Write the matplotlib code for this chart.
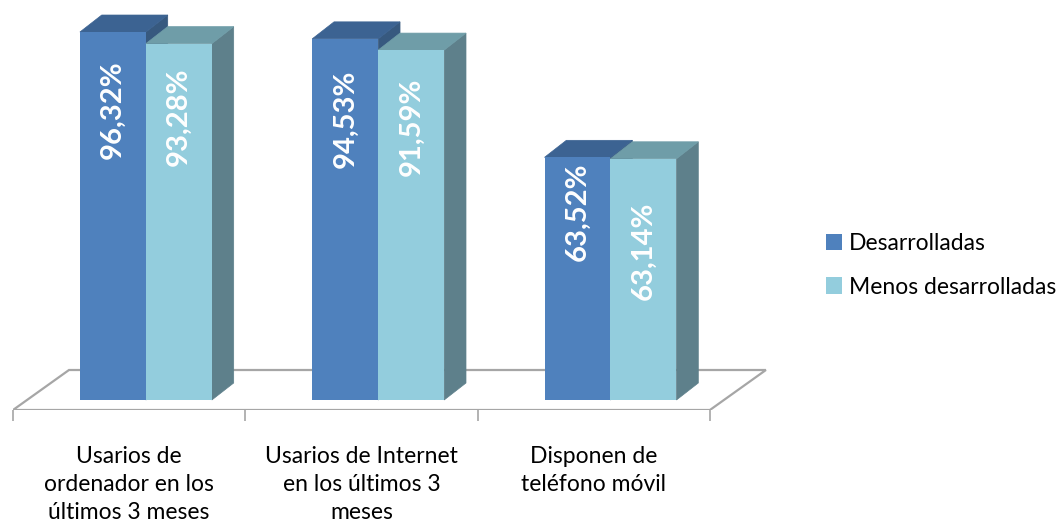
import matplotlib
matplotlib.use('Agg')
import matplotlib.pyplot as plt
from matplotlib.patches import Polygon, Patch

categories = ['Usarios de\nordenador en los\núltimos 3 meses',
              'Usarios de Internet\nen los últimos 3\nmeses',
              'Disponen de\nteléfono móvil']
series = ['Desarrolladas', 'Menos desarrolladas']
desarrolladas = [96.32, 94.53, 63.52]
menos_desarrolladas = [93.28, 91.59, 63.14]

# estilo
FRONT = ['#4F81BD', '#93CDDD']
TOP = ['#3C6392', '#6F9DA8']
SIDE = ['#37597F', '#5E808B']
FONT = ['Lato', 'DejaVu Sans']
# distancia (px) entre la parte superior de la barra y la etiqueta
label_gap = [[28, 31, 5], [24, 28, 43]]

BAR_W = 0.284
BAR_START = 0.288
DX, DY = 0.094, 4.45          # profundidad de las barras
FLOOR_Y = -2.62
FLOOR_DX, FLOOR_DY = 0.241, 10.47


def face(ax, pts, color, z):
    ax.add_patch(Polygon(pts, closed=True, facecolor=color, edgecolor=color,
                         linewidth=0.5, zorder=z))


fig = plt.figure(figsize=(10.64, 5.26), dpi=100)
ax = fig.add_axes([13 / 1064, 116 / 526, 0.7205, 410 / 526])
ax.set_xlim(0, 3.3)
ax.set_ylim(FLOOR_Y, 104.7)

# suelo
n = len(categories)
floor = Polygon([(0, FLOOR_Y), (n, FLOOR_Y), (n + FLOOR_DX, FLOOR_Y + FLOOR_DY),
                 (FLOOR_DX, FLOOR_Y + FLOOR_DY)], closed=True,
                facecolor='white', edgecolor='#A6A6A6', linewidth=1.6, zorder=1)
ax.add_patch(floor)

for s, vals in enumerate([desarrolladas, menos_desarrolladas]):
    for i, v in enumerate(vals):
        x0 = i + BAR_START + s * BAR_W
        x1 = x0 + BAR_W
        z = 2 + s * 3
        face(ax, [(x1, 0), (x1 + DX, DY), (x1 + DX, v + DY), (x1, v)], SIDE[s], z)
        face(ax, [(x0, v), (x1, v), (x1 + DX, v + DY), (x0 + DX, v + DY)], TOP[s], z + 1)
        ax.bar(x0, v, BAR_W, align='edge', color=FRONT[s], zorder=z + 2)
        ax.annotate(f'{v:.2f}%'.replace('.', ','), (x0 + BAR_W / 2, v),
                    xytext=(0, -label_gap[s][i]), textcoords='offset pixels',
                    rotation=90, ha='center', va='top', color='white',
                    fontsize=21, fontweight='bold', family=FONT, zorder=10)

for sp in ax.spines.values():
    sp.set_visible(False)
ax.set_yticks([])
ax.set_xticks(range(n + 1))
ax.set_xticklabels([])
ax.tick_params(axis='x', which='major', length=8, color='#A6A6A6', width=1.2)
ax.set_xticks([i + 0.5 for i in range(n)], minor=True)
ax.set_xticklabels(categories, minor=True, fontsize=16.5, family=FONT,
                   linespacing=1.4)
ax.tick_params(axis='x', which='minor', length=0, pad=26)

handles = [Patch(facecolor=FRONT[0]), Patch(facecolor=FRONT[1])]
fig.legend(handles, series, loc='upper left', bbox_to_anchor=(805 / 1064, 1 - 212 / 526),
           frameon=False, handlelength=0.7, handleheight=0.7, handletextpad=0.3,
           labelspacing=1.0, prop={'family': FONT, 'size': 16.5})

fig.savefig('out.png', dpi=100)
